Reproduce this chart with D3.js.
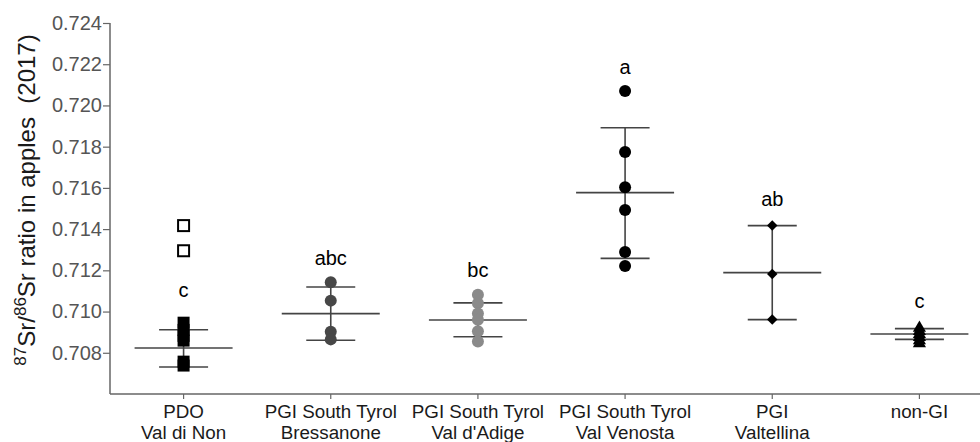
<!DOCTYPE html>
<html>
<head>
<meta charset="utf-8">
<script src="https://cdn.jsdelivr.net/npm/d3@7"></script>
<style>
  body { margin: 0; background: #fff; }
  svg { display: block; font-family: "Liberation Sans", Arial, sans-serif; }
</style>
</head>
<body>
<script>
// groups on the x axis (two lines each)
var groups = ["PDO|Val di Non", "PGI South Tyrol|Bressanone", "PGI South Tyrol|Val d'Adige",
              "PGI South Tyrol|Val Venosta", "PGI|Valtellina", "non-GI"];

// individual samples
var pdoFilled = [0.70946, 0.70911, 0.70882, 0.70859, 0.70757, 0.70738];
var pdoOpen = [0.71417, 0.71295];
var bressanone = [0.71142, 0.71053, 0.70902, 0.70865];
var adige = [0.71082, 0.71040, 0.70990, 0.70960, 0.70905, 0.70855];
var venosta = [0.72070, 0.71774, 0.71603, 0.71493, 0.71289, 0.71221];
var valtellina = [0.71417, 0.71182, 0.70962];
var nonGI = [0.70920, 0.70905, 0.70890, 0.70875, 0.70860, 0.70845];

// mean and +/- sd lines
var means = [0.70823, 0.70990, 0.70959, 0.71577, 0.71189, 0.70891];
var sdHigh = [0.70912, 0.71119, 0.71042, 0.71892, 0.71417, 0.70917];
var sdLow = [0.70731, 0.70861, 0.70878, 0.71258, 0.70961, 0.70865];

// significance letters and where they sit (baseline, data units)
var letters = ["c", "abc", "bc", "a", "ab", "c"];
var letterAt = [0.71071, 0.71226, 0.71168, 0.72151, 0.71512, 0.71017];

var yTicks = [0.708, 0.710, 0.712, 0.714, 0.716, 0.718, 0.720, 0.722, 0.724];

var W = 980, H = 442;
var svg = d3.select("body").append("svg").attr("width", W).attr("height", H);

var x = d3.scaleBand().domain(groups).range([110, 993]);
var y = d3.scaleLinear().domain([0.706, 0.724]).range([394, 23]);
var cx = function(i) { return x(groups[i]) + x.bandwidth() / 2; };

// y axis
var yAxis = svg.append("g").attr("transform", "translate(110,0)")
    .call(d3.axisLeft(y).tickValues(yTicks).tickFormat(d3.format(".3f")).tickSizeOuter(0).tickSize(7));
yAxis.select(".domain").attr("stroke", "#666").attr("stroke-width", 1.5)
    .attr("d", "M0," + y(0.724) + "V394");
yAxis.selectAll(".tick line").attr("stroke", "#666").attr("stroke-width", 1.2);
yAxis.selectAll(".tick text").attr("fill", "#555").attr("font-size", 20)
    .attr("font-family", "Liberation Sans, Arial, sans-serif").attr("x", -8);

// x axis
var xAxis = svg.append("g").attr("transform", "translate(0,394)")
    .call(d3.axisBottom(x).tickSizeOuter(0).tickSize(5).tickFormat(""));
xAxis.select(".domain").attr("stroke", "#666").attr("stroke-width", 1.5).attr("d", "M110,0H980");
xAxis.selectAll(".tick line").attr("stroke", "#666").attr("stroke-width", 1.2);

var xl = svg.append("g").attr("font-size", 18.8).attr("fill", "#1a1a1a").attr("text-anchor", "middle");
groups.forEach(function(g, i) {
  var parts = g.split("|");
  var t = xl.append("text").attr("x", cx(i)).attr("y", 418);
  parts.forEach(function(p, k) {
    t.append("tspan").attr("x", cx(i)).attr("dy", k === 0 ? 0 : 21).text(p);
  });
});

// y title
var yt = svg.append("text")
    .attr("transform", "translate(35,200) rotate(-90)")
    .attr("text-anchor", "middle").attr("font-size", 24).attr("fill", "#1a1a1a");
yt.append("tspan").attr("font-size", 17).attr("baseline-shift", "super").text("87");
yt.append("tspan").text("Sr/");
yt.append("tspan").attr("font-size", 17).attr("baseline-shift", "super").text("86");
yt.append("tspan").text("Sr ratio in apples\u00a0\u00a0(2017)");

// error bars
var bars = svg.append("g").attr("stroke", "#444").attr("stroke-width", 1.6);
means.forEach(function(m, i) {
  var c = cx(i);
  bars.append("line").attr("x1", c).attr("x2", c).attr("y1", y(sdHigh[i])).attr("y2", y(sdLow[i]));
  bars.append("line").attr("x1", c - 49).attr("x2", c + 49).attr("y1", y(m)).attr("y2", y(m));
  bars.append("line").attr("x1", c - 24.5).attr("x2", c + 24.5).attr("y1", y(sdHigh[i])).attr("y2", y(sdHigh[i]));
  bars.append("line").attr("x1", c - 24.5).attr("x2", c + 24.5).attr("y1", y(sdLow[i])).attr("y2", y(sdLow[i]));
});

// points
var pts = svg.append("g");
pts.selectAll(".sq").data(pdoFilled).enter().append("rect")
    .attr("x", cx(0) - 6).attr("y", function(d) { return y(d) - 6; })
    .attr("width", 12).attr("height", 12).attr("fill", "#000");
pts.selectAll(".osq").data(pdoOpen).enter().append("rect")
    .attr("x", cx(0) - 5.5).attr("y", function(d) { return y(d) - 5.5; })
    .attr("width", 11).attr("height", 11).attr("fill", "#fff").attr("stroke", "#000").attr("stroke-width", 2);

function dots(arr, i, col) {
  pts.append("g").selectAll("circle").data(arr).enter().append("circle")
      .attr("cx", cx(i)).attr("cy", function(d) { return y(d); })
      .attr("r", 6).attr("fill", col);
}
dots(bressanone, 1, "#474747");
dots(adige, 2, "#8a8a8a");
dots(venosta, 3, "#000");

pts.append("g").selectAll("path").data(valtellina).enter().append("path")
    .attr("d", d3.symbol().type(d3.symbolDiamond2).size(70))
    .attr("transform", function(d) { return "translate(" + cx(4) + "," + y(d) + ")"; })
    .attr("fill", "#000");
pts.append("g").selectAll("path").data(nonGI).enter().append("path")
    .attr("d", d3.symbol().type(d3.symbolTriangle).size(75))
    .attr("transform", function(d) { return "translate(" + cx(5) + "," + y(d) + ")"; })
    .attr("fill", "#000");

// letters
svg.append("g").attr("font-size", 20).attr("text-anchor", "middle").attr("fill", "#000")
  .selectAll("text").data(letters).enter().append("text")
    .attr("x", function(d, i) { return cx(i); })
    .attr("y", function(d, i) { return y(letterAt[i]); })
    .text(function(d) { return d; });
</script>
</body>
</html>
